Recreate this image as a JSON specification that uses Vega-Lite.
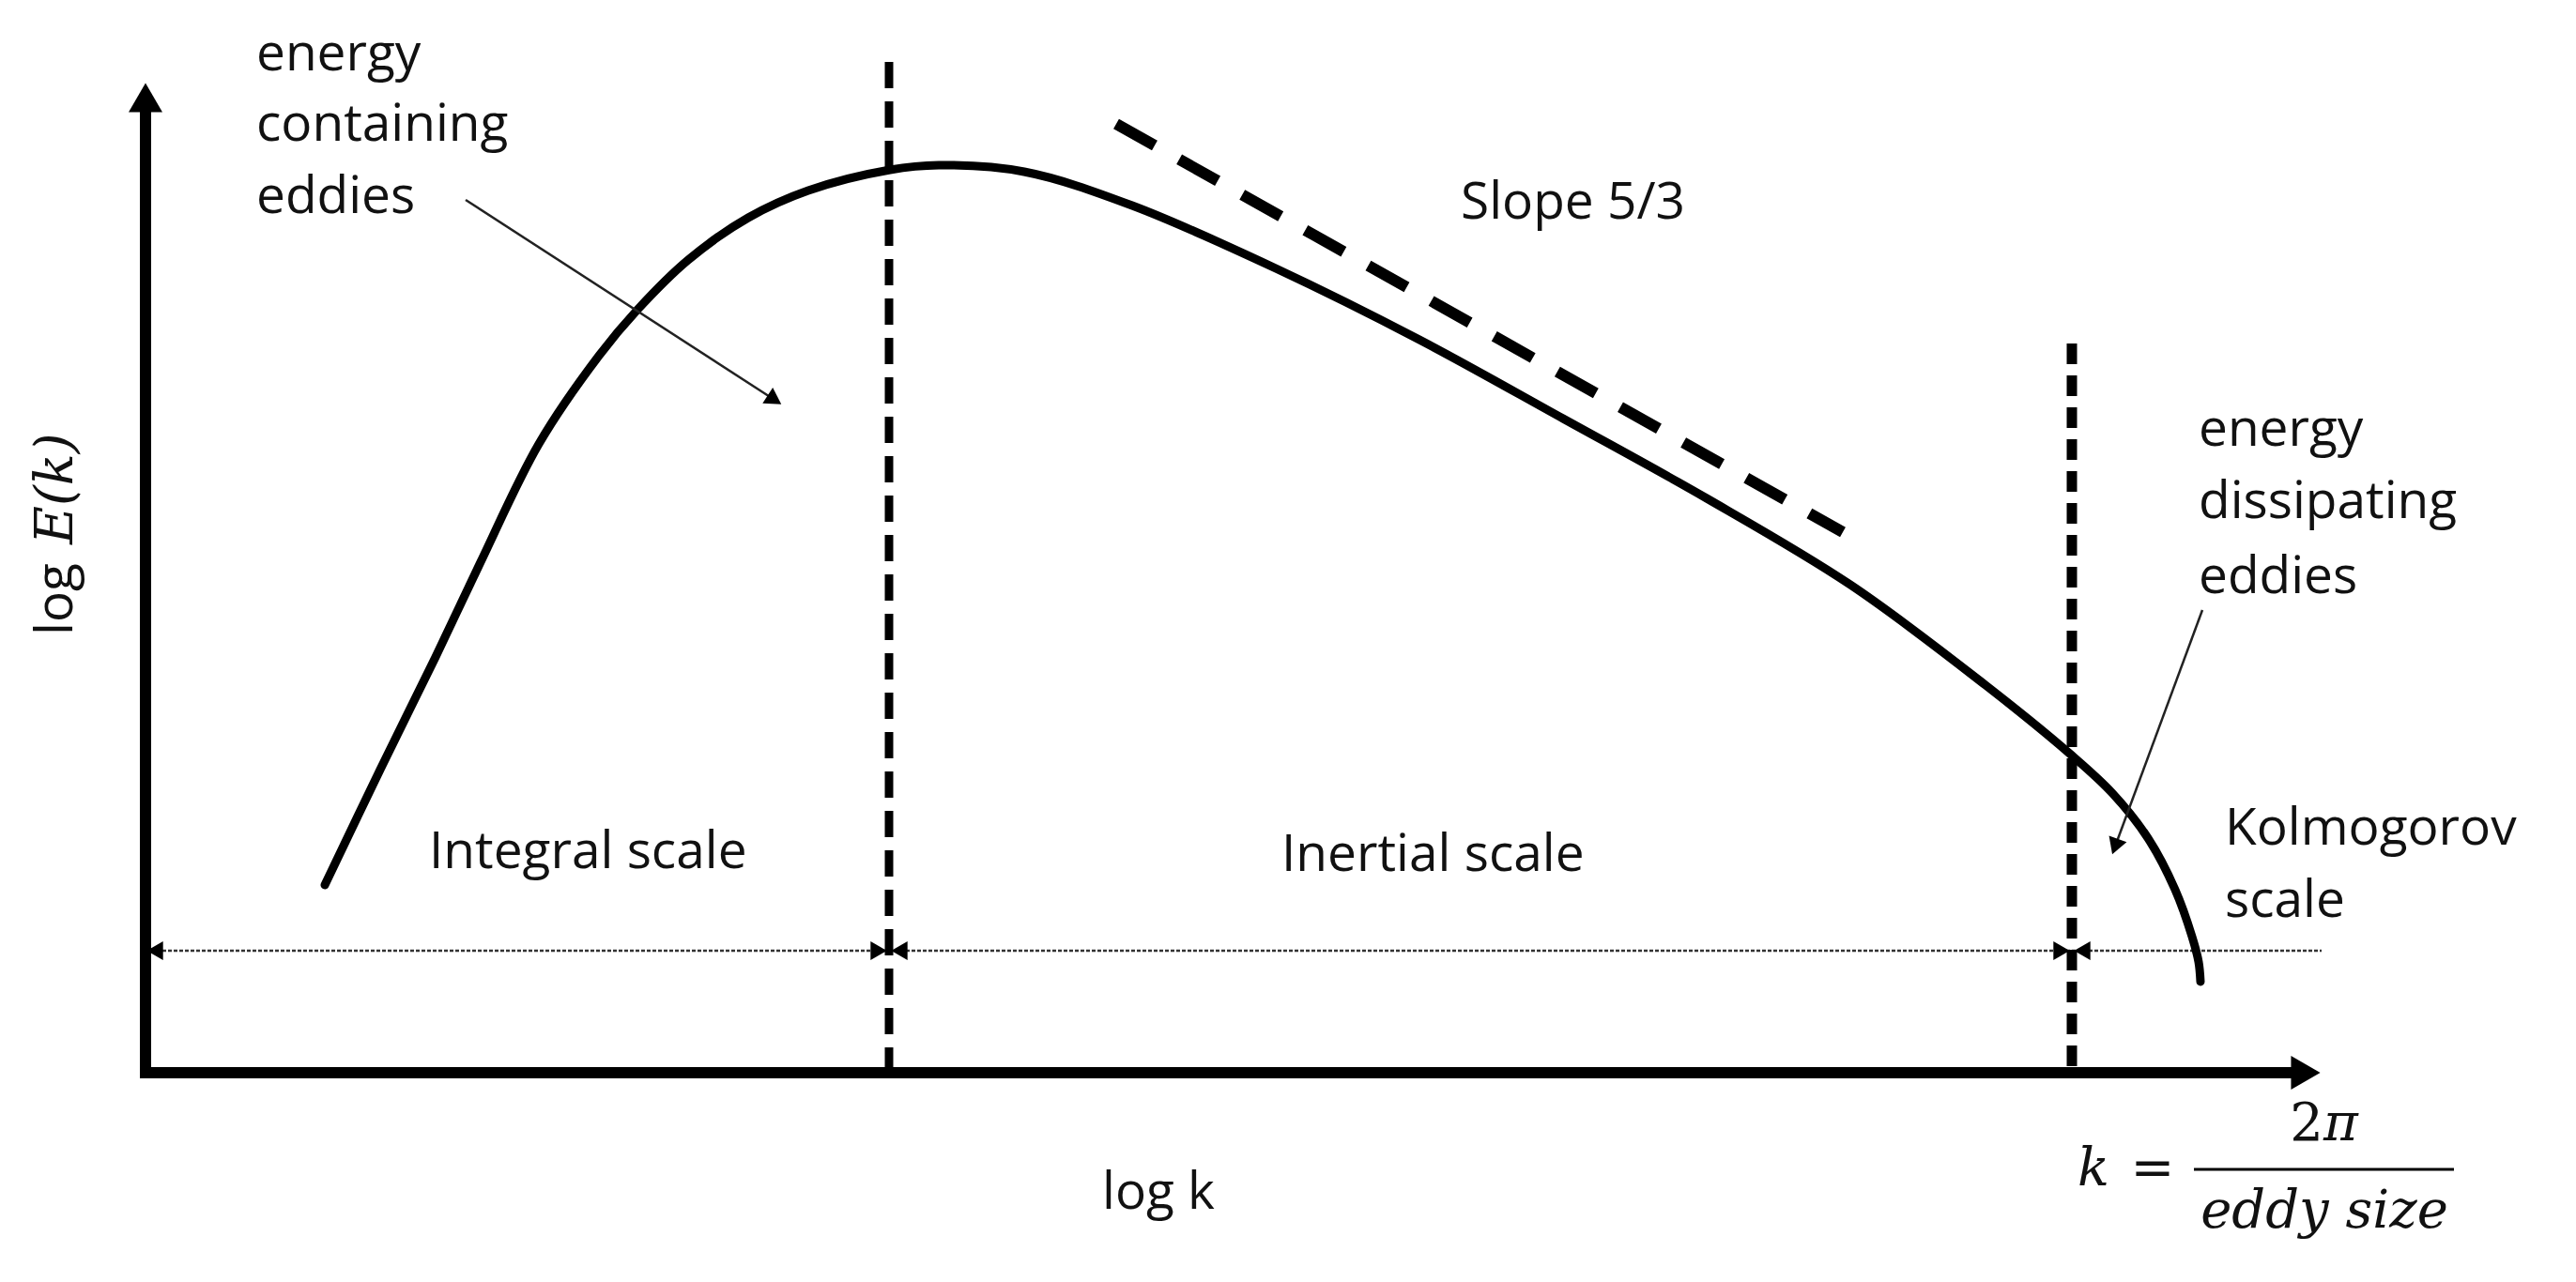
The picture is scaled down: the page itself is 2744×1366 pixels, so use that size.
{
  "$schema": "https://vega.github.io/schema/vega-lite/v6.json",
  "width": 2744,
  "height": 1366,
  "autosize": {"type": "fit", "contains": "padding"},
  "padding": 0,
  "background": "white",
  "config": {"view": {"stroke": null}},
  "datasets": {
    "curve": [
      {"logk": 1.91, "logE": 2.00},
      {"logk": 2.50, "logE": 3.23},
      {"logk": 3.09, "logE": 4.43},
      {"logk": 3.55, "logE": 5.40},
      {"logk": 4.19, "logE": 6.70},
      {"logk": 4.83, "logE": 7.64},
      {"logk": 5.24, "logE": 8.13},
      {"logk": 5.78, "logE": 8.66},
      {"logk": 6.42, "logE": 9.11},
      {"logk": 7.06, "logE": 9.40},
      {"logk": 7.93, "logE": 9.62},
      {"logk": 8.45, "logE": 9.67},
      {"logk": 9.36, "logE": 9.60},
      {"logk": 10.51, "logE": 9.24},
      {"logk": 12.04, "logE": 8.57},
      {"logk": 13.57, "logE": 7.81},
      {"logk": 15.10, "logE": 6.97},
      {"logk": 16.63, "logE": 6.12},
      {"logk": 18.16, "logE": 5.20},
      {"logk": 19.60, "logE": 4.13},
      {"logk": 20.52, "logE": 3.38},
      {"logk": 20.95, "logE": 2.98},
      {"logk": 21.33, "logE": 2.50},
      {"logk": 21.62, "logE": 1.95},
      {"logk": 21.80, "logE": 1.45},
      {"logk": 21.87, "logE": 1.18},
      {"logk": 21.89, "logE": 0.97}
    ],
    "axes": [
      {"x": 0, "y": 0, "x2": 0, "y2": 10.25},
      {"x": 0, "y": 0, "x2": 22.9, "y2": 0}
    ],
    "boundary1": [{"x": 7.92, "y": 10.77, "y2": 0.04}],
    "boundary2": [{"x": 20.52, "y": 7.77, "y2": 0.04}],
    "slope": [{"x": 10.34, "y": 10.11, "x2": 18.08, "y2": 5.76}],
    "range": [{"x": 0, "y": 1.30, "x2": 23.18}],
    "pointers": [
      {"x": 3.41, "y": 9.30, "x2": 6.70, "y2": 7.17},
      {"x": 21.91, "y": 4.93, "x2": 20.98, "y2": 2.41}
    ],
    "fraction": [{"x": 21.82, "y": -1.03, "x2": 24.59, "y2": -1.03}],
    "headUp": [{"x": 0, "y": 10.39}],
    "headRight": [{"x": 23.01, "y": 0}],
    "tickLeft": [{"x": 0.10, "y": 1.30}, {"x": 8.03, "y": 1.30}, {"x": 20.63, "y": 1.30}],
    "tickRight": [{"x": 7.81, "y": 1.30}, {"x": 20.41, "y": 1.30}],
    "pointerHead1": [{"x": 6.70, "y": 7.17}],
    "pointerHead2": [{"x": 20.98, "y": 2.41}],
    "labels": [
      {"t": "energy", "x": 1.18, "y": 10.68},
      {"t": "containing", "x": 1.18, "y": 9.93},
      {"t": "eddies", "x": 1.18, "y": 9.16},
      {"t": "Slope 5/3", "x": 14.01, "y": 9.10},
      {"t": "energy", "x": 21.87, "y": 6.68},
      {"t": "dissipating", "x": 21.87, "y": 5.91},
      {"t": "eddies", "x": 21.87, "y": 5.11},
      {"t": "Kolmogorov", "x": 22.15, "y": 2.43},
      {"t": "scale", "x": 22.15, "y": 1.66},
      {"t": "Integral scale", "x": 3.02, "y": 2.18},
      {"t": "Inertial scale", "x": 12.10, "y": 2.15},
      {"t": "log k", "x": 10.19, "y": -1.45}
    ],
    "ylog": [{"t": "log", "x": -0.78, "y": 4.66}],
    "yE": [{"t": "E(k)", "x": -0.78, "y": 5.63}],
    "mathItalic": [
      {"t": "k", "x": 20.75, "y": -1.20},
      {"t": "eddy size", "x": 23.21, "y": -1.65}
    ],
    "mathPi": [{"t": "π", "x": 23.20, "y": -0.72}],
    "mathTwo": [{"t": "2", "x": 23.20, "y": -0.72}],
    "mathEq": [{"t": "=", "x": 21.38, "y": -1.20}]
  },
  "layer": [
    {
      "data": {"name": "range"},
      "mark": {"type": "rule", "color": "#333333", "strokeWidth": 2.5, "strokeDash": [4, 2]},
      "encoding": {
        "x": {"field": "x", "type": "quantitative", "scale": {"domain": [-1.55, 25.89], "nice": false, "zero": false}, "axis": null},
        "y": {"field": "y", "type": "quantitative", "scale": {"domain": [-2.23, 11.43], "nice": false, "zero": false}, "axis": null},
        "x2": {"field": "x2"}
      }
    },
    {
      "data": {"name": "boundary1"},
      "mark": {"type": "rule", "color": "black", "strokeWidth": 9, "strokeDash": [28, 14]},
      "encoding": {
        "x": {"field": "x", "type": "quantitative"},
        "y": {"field": "y", "type": "quantitative"},
        "y2": {"field": "y2"}
      }
    },
    {
      "data": {"name": "boundary2"},
      "mark": {"type": "rule", "color": "black", "strokeWidth": 11, "strokeDash": [22, 12]},
      "encoding": {
        "x": {"field": "x", "type": "quantitative"},
        "y": {"field": "y", "type": "quantitative"},
        "y2": {"field": "y2"}
      }
    },
    {
      "data": {"name": "slope"},
      "mark": {"type": "rule", "color": "black", "strokeWidth": 12, "strokeDash": [47, 30]},
      "encoding": {
        "x": {"field": "x", "type": "quantitative"},
        "y": {"field": "y", "type": "quantitative"},
        "x2": {"field": "x2"},
        "y2": {"field": "y2"}
      }
    },
    {
      "data": {"name": "axes"},
      "mark": {"type": "rule", "color": "black", "strokeWidth": 12, "strokeCap": "square"},
      "encoding": {
        "x": {"field": "x", "type": "quantitative"},
        "y": {"field": "y", "type": "quantitative"},
        "x2": {"field": "x2"},
        "y2": {"field": "y2"}
      }
    },
    {
      "data": {"name": "headUp"},
      "mark": {"type": "point", "shape": "triangle-up", "size": 1296, "filled": true, "color": "black", "opacity": 1},
      "encoding": {
        "x": {"field": "x", "type": "quantitative"},
        "y": {"field": "y", "type": "quantitative"}
      }
    },
    {
      "data": {"name": "headRight"},
      "mark": {"type": "point", "shape": "triangle-right", "size": 1296, "filled": true, "color": "black", "opacity": 1},
      "encoding": {
        "x": {"field": "x", "type": "quantitative"},
        "y": {"field": "y", "type": "quantitative"}
      }
    },
    {
      "data": {"name": "tickLeft"},
      "mark": {"type": "point", "shape": "triangle-left", "size": 400, "filled": true, "color": "black", "opacity": 1},
      "encoding": {
        "x": {"field": "x", "type": "quantitative"},
        "y": {"field": "y", "type": "quantitative"}
      }
    },
    {
      "data": {"name": "tickRight"},
      "mark": {"type": "point", "shape": "triangle-right", "size": 400, "filled": true, "color": "black", "opacity": 1},
      "encoding": {
        "x": {"field": "x", "type": "quantitative"},
        "y": {"field": "y", "type": "quantitative"}
      }
    },
    {
      "data": {"name": "curve"},
      "mark": {"type": "line", "color": "black", "strokeWidth": 9, "interpolate": "catmull-rom", "strokeCap": "round", "strokeJoin": "round"},
      "encoding": {
        "x": {"field": "logk", "type": "quantitative"},
        "y": {"field": "logE", "type": "quantitative"}
      }
    },
    {
      "data": {"name": "pointers"},
      "mark": {"type": "rule", "color": "#222222", "strokeWidth": 2.5},
      "encoding": {
        "x": {"field": "x", "type": "quantitative"},
        "y": {"field": "y", "type": "quantitative"},
        "x2": {"field": "x2"},
        "y2": {"field": "y2"}
      }
    },
    {
      "data": {"name": "pointerHead1"},
      "mark": {"type": "point", "shape": "triangle-right", "size": 400, "angle": 33, "filled": true, "color": "black", "opacity": 1},
      "encoding": {
        "x": {"field": "x", "type": "quantitative"},
        "y": {"field": "y", "type": "quantitative"}
      }
    },
    {
      "data": {"name": "pointerHead2"},
      "mark": {"type": "point", "shape": "triangle-right", "size": 400, "angle": 110, "filled": true, "color": "black", "opacity": 1},
      "encoding": {
        "x": {"field": "x", "type": "quantitative"},
        "y": {"field": "y", "type": "quantitative"}
      }
    },
    {
      "data": {"name": "fraction"},
      "mark": {"type": "rule", "color": "black", "strokeWidth": 3},
      "encoding": {
        "x": {"field": "x", "type": "quantitative"},
        "y": {"field": "y", "type": "quantitative"},
        "x2": {"field": "x2"},
        "y2": {"field": "y2"}
      }
    },
    {
      "data": {"name": "labels"},
      "mark": {"type": "text", "font": "Open Sans", "fontSize": 55, "align": "left", "baseline": "alphabetic", "color": "#111111"},
      "encoding": {
        "x": {"field": "x", "type": "quantitative"},
        "y": {"field": "y", "type": "quantitative"},
        "text": {"field": "t"}
      }
    },
    {
      "data": {"name": "ylog"},
      "mark": {"type": "text", "font": "Open Sans", "fontSize": 55, "align": "left", "baseline": "alphabetic", "angle": 270, "color": "#111111"},
      "encoding": {
        "x": {"field": "x", "type": "quantitative"},
        "y": {"field": "y", "type": "quantitative"},
        "text": {"field": "t"}
      }
    },
    {
      "data": {"name": "yE"},
      "mark": {"type": "text", "font": "DejaVu Serif", "fontStyle": "italic", "fontSize": 56, "align": "left", "baseline": "alphabetic", "angle": 270, "color": "#111111"},
      "encoding": {
        "x": {"field": "x", "type": "quantitative"},
        "y": {"field": "y", "type": "quantitative"},
        "text": {"field": "t"}
      }
    },
    {
      "data": {"name": "mathItalic"},
      "mark": {"type": "text", "font": "DejaVu Serif", "fontStyle": "italic", "fontSize": 56, "align": "center", "baseline": "alphabetic", "color": "#111111"},
      "encoding": {
        "x": {"field": "x", "type": "quantitative"},
        "y": {"field": "y", "type": "quantitative"},
        "text": {"field": "t"}
      }
    },
    {
      "data": {"name": "mathPi"},
      "mark": {"type": "text", "font": "DejaVu Serif", "fontStyle": "italic", "fontSize": 56, "align": "left", "baseline": "alphabetic", "color": "#111111"},
      "encoding": {
        "x": {"field": "x", "type": "quantitative"},
        "y": {"field": "y", "type": "quantitative"},
        "text": {"field": "t"}
      }
    },
    {
      "data": {"name": "mathTwo"},
      "mark": {"type": "text", "font": "DejaVu Serif", "fontSize": 56, "align": "right", "baseline": "alphabetic", "color": "#111111"},
      "encoding": {
        "x": {"field": "x", "type": "quantitative"},
        "y": {"field": "y", "type": "quantitative"},
        "text": {"field": "t"}
      }
    },
    {
      "data": {"name": "mathEq"},
      "mark": {"type": "text", "font": "DejaVu Serif", "fontSize": 56, "align": "center", "baseline": "alphabetic", "color": "#111111"},
      "encoding": {
        "x": {"field": "x", "type": "quantitative"},
        "y": {"field": "y", "type": "quantitative"},
        "text": {"field": "t"}
      }
    }
  ]
}
